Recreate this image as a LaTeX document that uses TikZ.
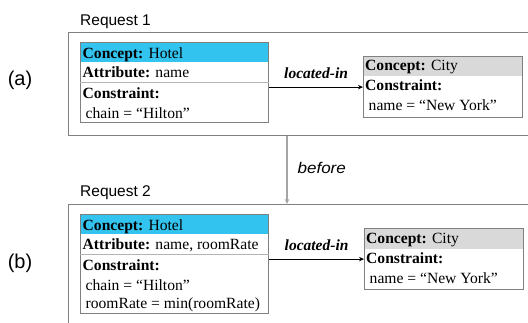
\documentclass[tikz,border=0pt]{standalone}
\usepackage{fontspec}
\setmainfont{Liberation Serif}
\newfontfamily\labelfont{Liberation Sans}
\usetikzlibrary{arrows.meta}

\definecolor{hotelblue}{RGB}{51,195,239}
\definecolor{cityhead}{RGB}{217,217,217}
\definecolor{edgegray}{RGB}{128,128,128}
\definecolor{sepgray}{RGB}{180,180,180}
\definecolor{beforegray}{RGB}{165,165,165}

\begin{document}
\begin{tikzpicture}[x=1pt,y=-1pt,
  reqframe/.style={draw=edgegray, line width=1.2pt, anchor=north west, inner sep=0pt,
    minimum width=#1, minimum height=120pt},
  conceptbox/.style 2 args={draw=edgegray, line width=1.2pt, anchor=north west, inner sep=0pt,
    minimum width=#1, minimum height=#2},
  headfill/.style 2 args={path picture={\fill[#1] (path picture bounding box.north west)
    rectangle ([yshift=-#2]path picture bounding box.north east);}},
  boxtext/.style={anchor=base west, inner sep=0pt, font=\fontsize{15.6}{18}\selectfont},
  sidelabel/.style={anchor=base west, inner sep=0pt, font=\labelfont\fontsize{15.5}{18}\selectfont},
  partlabel/.style={anchor=base, inner sep=0pt, font=\labelfont\fontsize{20}{24}\selectfont},
  relation/.style={draw=black, line width=0.9pt, -{Stealth[length=5pt,width=4.5pt]}},
  rellabel/.style={midway, anchor=base, inner sep=0pt, yshift=9pt,
    font=\fontsize{15.5}{18}\selectfont\bfseries\itshape},
  seqarrow/.style={draw=beforegray, line width=1.1pt, -{Stealth[length=5pt,width=4.5pt]}},
]
\useasboundingbox (0,0) rectangle (528,322);
\clip (0,0) rectangle (528,322);

% request frames (they run past the right and bottom edges)
\node[reqframe=480pt, minimum height=103pt] (reqA) at (68,32) {};
\node[reqframe=480pt, minimum height=140pt] (reqB) at (68,204) {};

\node[sidelabel] (titleA) at (80,25) {Request 1};
\node[sidelabel] (titleB) at (80,196.5) {Request 2};
\node[partlabel] (partA) at (20,85) {(a)};
\node[partlabel] (partB) at (20,268) {(b)};

% ---- Request 1 ----
\node[conceptbox={188pt}{80pt}, headfill={hotelblue}{19.5pt}] (hotelA) at (80,42) {};
\draw[sepgray, line width=0.9pt] ([yshift=-40pt]hotelA.north west) -- ([yshift=-40pt]hotelA.north east);
\node[boxtext] (hA1) at (82.5,58.5) {\textbf{Concept:} Hotel};
\node[boxtext] (hA2) at (82.5,77.5) {\textbf{Attribute:} name};
\node[boxtext] (hA3) at (82.5,98.5) {\textbf{Constraint:}};
\node[boxtext] (hA4) at (85.5,118) {chain = “Hilton”};

\node[conceptbox={159pt}{61pt}, headfill={cityhead}{19.5pt}] (cityA) at (363,56) {};
\node[boxtext] (cA1) at (365,70.5) {\textbf{Concept:} City};
\node[boxtext] (cA2) at (365,90.5) {\textbf{Constraint:}};
\node[boxtext] (cA3) at (368.5,110.5) {name = “New York”};

\draw[relation] (hotelA.east |- cityA.west) -- (cityA.west)
  node[rellabel] {located-in};

% ---- Request 2 ----
\node[conceptbox={188pt}{99pt}, headfill={hotelblue}{19.5pt}] (hotelB) at (80,214) {};
\draw[sepgray, line width=0.9pt] ([yshift=-40pt]hotelB.north west) -- ([yshift=-40pt]hotelB.north east);
\node[boxtext] (hB1) at (82.5,230.5) {\textbf{Concept:} Hotel};
\node[boxtext] (hB2) at (82.5,249.5) {\textbf{Attribute:} name, roomRate};
\node[boxtext] (hB3) at (82.5,270.5) {\textbf{Constraint:}};
\node[boxtext] (hB4) at (85.5,290) {chain = “Hilton”};
\node[boxtext] (hB5) at (85.5,308.5) {roomRate = min(roomRate)};

\node[conceptbox={159pt}{61pt}, headfill={cityhead}{20pt}] (cityB) at (364,228) {};
\node[boxtext] (cB1) at (366,243) {\textbf{Concept:} City};
\node[boxtext] (cB2) at (366,263) {\textbf{Constraint:}};
\node[boxtext] (cB3) at (369.5,283) {name = “New York”};

\draw[relation] (hotelB.east |- cityB.west) -- (cityB.west)
  node[rellabel] {located-in};

% ---- ordering between the two requests ----
\path (reqA.south west) ++(219,0) coordinate (seqstart);
\draw[seqarrow] (seqstart) -- (seqstart |- reqB.north)
  node[midway, anchor=base west, inner sep=0pt, xshift=10pt, yshift=-3pt,
       font=\labelfont\fontsize{15.5}{18}\selectfont\itshape] (beforelbl) {\scalebox{1.1}[1]{before}};
\end{tikzpicture}
\end{document}
